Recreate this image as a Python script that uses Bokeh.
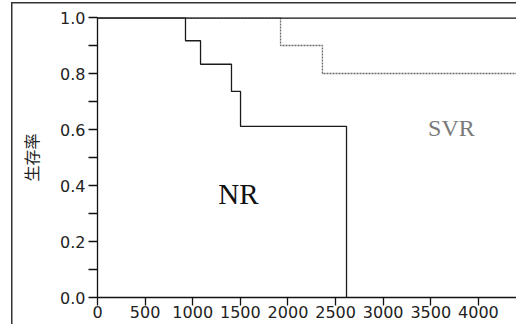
from bokeh.plotting import figure
from bokeh.models import FixedTicker, PrintfTickFormatter, Span, Label
from bokeh.embed import file_html
from bokeh.resources import INLINE

# Kaplan-Meier style survival steps
nr_days = [0, 924, 1082, 1407, 1502, 2615]
nr_surv = [1.0, 0.917, 0.833, 0.736, 0.611, 0.0]

svr_days = [0, 1922, 2362, 4500]
svr_surv = [1.0, 0.9, 0.8, 0.8]

x_ticks = [0, 500, 1000, 1500, 2000, 2500, 3000, 3500, 4000]
y_ticks = [0.0, 0.2, 0.4, 0.6, 0.8, 1.0]
y_minor = [0.1, 0.3, 0.5, 0.7, 0.9]

y_label = "生存率"
group_names = ["NR", "SVR"]

p = figure(width=516, height=324, output_backend="svg", toolbar_location=None,
           x_range=(0, 4400), y_range=(0, 1.0),
           min_border_left=97, min_border_right=0, min_border_top=17, min_border_bottom=27)
p.grid.visible = False
p.outline_line_color = None
p.background_fill_color = "white"
p.border_fill_color = None
# outer frame lines (left and top) drawn by the page behind the transparent border area
p.styles = {
    "background": ("linear-gradient(#333333, #333333) 11px 2px / 1.5px 100% no-repeat, "
                   "linear-gradient(#333333, #333333) 11px 2px / 100% 1.5px no-repeat, white"),
}

p.step(nr_days, nr_surv, mode="after", line_color="#1a1a1a", line_width=1.3)
p.step(svr_days, svr_surv, mode="after", line_color="#6a6a6a", line_width=1.3, line_dash="2 1")

p.add_layout(Span(location=1.0, dimension="width", line_color="#111111", line_width=2.5))

p.xaxis.ticker = FixedTicker(ticks=x_ticks)
p.yaxis.ticker = FixedTicker(ticks=y_ticks, minor_ticks=y_minor)
p.yaxis.formatter = PrintfTickFormatter(format="%.1f")

for ax in (p.xaxis[0], p.yaxis[0]):
    ax.axis_line_color = "#111111"
    ax.axis_line_width = 1.3
    ax.major_tick_line_color = "#111111"
    ax.major_tick_line_width = 1.3
    ax.major_tick_in = 0
    ax.major_label_text_font = "DejaVu Sans"
    ax.major_label_text_font_size = "16px"
    ax.major_label_text_color = "#222222"

p.xaxis.major_tick_out = 8
p.xaxis.minor_tick_line_color = None
p.xaxis.major_label_standoff = 0
p.yaxis.major_tick_out = 9
p.yaxis.minor_tick_line_color = "#111111"
p.yaxis.minor_tick_line_width = 1.3
p.yaxis.minor_tick_out = 9
p.yaxis.minor_tick_in = 0
p.yaxis.major_label_standoff = 3

p.yaxis.axis_label = y_label
p.yaxis.axis_label_text_font = "Noto Sans CJK JP"
p.yaxis.axis_label_text_font_size = "16px"
p.yaxis.axis_label_text_font_style = "normal"
p.yaxis.axis_label_text_color = "#222222"
p.yaxis.axis_label_standoff = 14

p.add_layout(Label(x=1480, y=0.368, text=group_names[0], text_align="center",
                   text_baseline="middle", text_font="Liberation Serif",
                   text_font_size="29px", text_color="#111111"))
p.add_layout(Label(x=3717, y=0.604, text=group_names[1], text_align="center",
                   text_baseline="middle", text_font="Liberation Serif",
                   text_font_size="24px", text_color="#7a7a7a"))

open("out.html", "w").write(file_html(p, INLINE))
